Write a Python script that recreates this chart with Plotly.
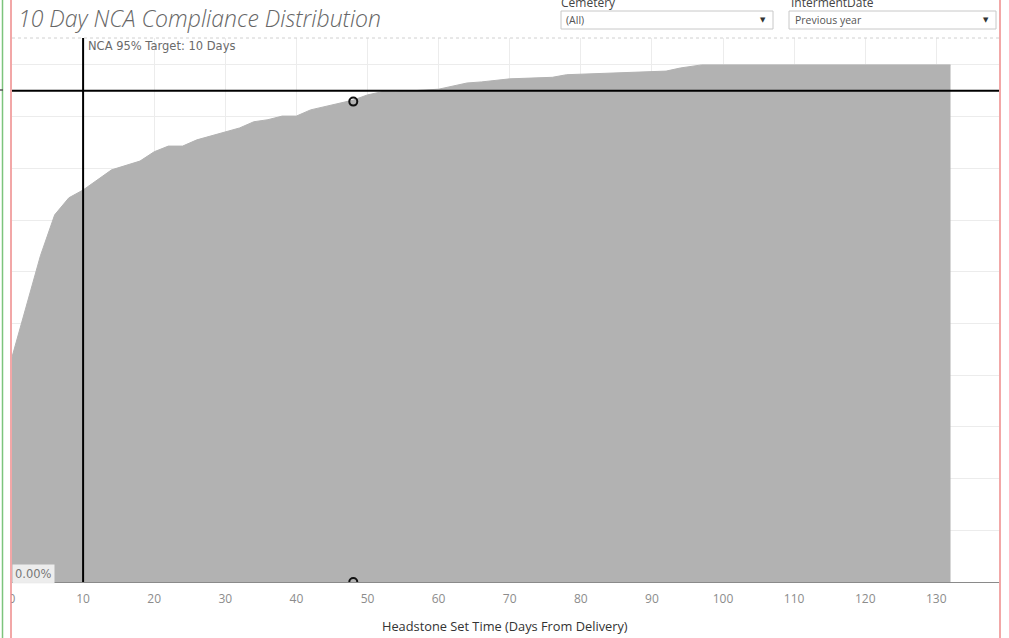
import plotly.graph_objects as go

# ---- data ----
days = [0, 2, 4, 6, 8, 10, 14, 18, 20, 22, 24, 26, 28, 30, 32, 34, 36, 38, 40, 42,
        44, 45, 47, 48, 50, 52, 54, 60, 64, 66, 70, 76, 78, 88, 92, 94, 97, 132]
pct_complete = [0.435, 0.534, 0.631, 0.710, 0.743, 0.758, 0.797, 0.814, 0.832, 0.843,
                0.843, 0.855, 0.863, 0.871, 0.878, 0.890, 0.894, 0.901, 0.901, 0.913,
                0.919, 0.923, 0.928, 0.932, 0.942, 0.948, 0.948, 0.953, 0.965, 0.967,
                0.973, 0.976, 0.981, 0.986, 0.988, 0.994, 1.0, 1.0]
marker_days = [48, 48]
marker_vals = [0.929, 0.0]
target_day = 10
target_pct = 0.95
x_ticks = [0, 10, 20, 30, 40, 50, 60, 70, 80, 90, 100, 110, 120, 130]

title_text = "10 Day NCA Compliance Distribution"
ref_label = "NCA 95% Target: 10 Days"
x_title = "Headstone Set Time (Days From Delivery)"
filter1_label, filter1_value = "Cemetery", "(All)"
filter2_label, filter2_value = "IntermentDate", "Previous year"

# ---- layout geometry (pixels) ----
W, H = 1009, 638
L, R, T, B = 12, 999, 38, 582

def px(x):
    return (x - L) / (R - L)

def py(y):
    return (B - y) / (B - T)

FONT = "Open Sans"
FONT2 = "DejaVu Sans"

fig = go.Figure()
fig.add_trace(go.Scatter(
    x=days, y=pct_complete, mode="lines", fill="tozeroy",
    line=dict(color="rgb(178,178,178)", width=1, shape="linear"),
    fillcolor="rgb(178,178,178)", hoverinfo="skip", showlegend=False))
fig.add_trace(go.Scatter(
    x=marker_days, y=marker_vals, mode="markers",
    marker=dict(symbol="circle-open", size=8, color="#111", line=dict(width=2, color="#111")),
    showlegend=False, cliponaxis=True))

shapes = []
shapes.append(dict(type="line", xref="x", yref="paper", x0=target_day, x1=target_day, y0=0, y1=1,
                   line=dict(color="#000", width=2), layer="above"))
shapes.append(dict(type="line", xref="paper", yref="y", x0=0, x1=1, y0=target_pct, y1=target_pct,
                   line=dict(color="#000", width=2), layer="above"))
shapes.append(dict(type="line", xref="paper", yref="paper", x0=0, x1=1, y0=1, y1=1,
                   line=dict(color="#d0d0d0", width=1, dash="dot")))
shapes.append(dict(type="rect", xref="paper", yref="paper", x0=px(0), x1=px(11), y0=py(638), y1=py(0),
                   fillcolor="white", line=dict(width=0), layer="above"))
shapes.append(dict(type="line", xref="paper", yref="paper", x0=px(2.5), x1=px(2.5), y0=py(638), y1=py(0),
                   line=dict(color="#7cc47c", width=1.5), layer="above"))
shapes.append(dict(type="line", xref="paper", yref="paper", x0=px(11), x1=px(11), y0=py(638), y1=py(0),
                   line=dict(color="#ee8a8a", width=1.5), layer="above"))
shapes.append(dict(type="line", xref="paper", yref="paper", x0=px(1000), x1=px(1000), y0=py(638), y1=py(0),
                   line=dict(color="#ee8a8a", width=1.5), layer="above"))
shapes.append(dict(type="line", xref="paper", yref="paper", x0=px(0), x1=px(3), y0=py(90), y1=py(90),
                   line=dict(color="#555", width=1.5), layer="above"))
for x0, x1 in [(561, 773), (789, 996)]:
    shapes.append(dict(type="rect", xref="paper", yref="paper", x0=px(x0), x1=px(x1), y0=py(29), y1=py(11),
                       fillcolor="white", line=dict(color="#c8c8c8", width=1)))

ann = []
ann.append(dict(text=title_text, xref="paper", yref="paper", x=px(16), y=py(18), xanchor="left", yanchor="middle",
                showarrow=False, font=dict(family=FONT, size=23, color="#666666", style="italic", weight=300)))
ann.append(dict(text=ref_label, xref="paper", yref="paper", x=px(86), y=py(46), xanchor="left", yanchor="middle",
                showarrow=False, font=dict(family=FONT2, size=11.5, color="#6a6a6a")))
ann.append(dict(text="0.00%", xref="paper", yref="paper", x=px(12), y=py(574), xanchor="left", yanchor="middle",
                showarrow=False, font=dict(family=FONT2, size=11.5, color="#777"), bgcolor="rgba(240,240,240,0.95)",
                borderpad=2))
ann.append(dict(text=x_title, xref="paper", yref="paper", x=px(505), y=py(626), xanchor="center", yanchor="middle",
                showarrow=False, font=dict(family=FONT, size=12.8, color="#333")))
ann.append(dict(text=filter1_label, xref="paper", yref="paper", x=px(559), y=py(3), xanchor="left", yanchor="middle",
                showarrow=False, font=dict(family=FONT, size=12, color="#444")))
ann.append(dict(text=filter2_label, xref="paper", yref="paper", x=px(789), y=py(3), xanchor="left", yanchor="middle",
                showarrow=False, font=dict(family=FONT, size=12, color="#444")))
ann.append(dict(text=filter1_value, xref="paper", yref="paper", x=px(564), y=py(20), xanchor="left", yanchor="middle",
                showarrow=False, font=dict(family=FONT, size=10.5, color="#555")))
ann.append(dict(text=filter2_value, xref="paper", yref="paper", x=px(793), y=py(20), xanchor="left", yanchor="middle",
                showarrow=False, font=dict(family=FONT, size=10.5, color="#555")))
for ax in (763, 986):
    ann.append(dict(text="▼", xref="paper", yref="paper", x=px(ax), y=py(20), xanchor="center", yanchor="middle",
                    showarrow=False, font=dict(family=FONT2, size=7, color="#333")))

fig.update_layout(
    width=W, height=H,
    margin=dict(l=L, r=W - R, t=T, b=H - B, pad=0),
    paper_bgcolor="white", plot_bgcolor="white",
    shapes=shapes, annotations=ann, showlegend=False,
    xaxis=dict(range=[0, (R - L) / 7.11], tickvals=x_ticks, ticks="", showgrid=True,
               gridcolor="#ececec", gridwidth=1, zeroline=False, showline=True,
               linecolor="#8a8a8a", linewidth=1, tickfont=dict(family=FONT, size=12, color="#8c8c8c"),
               ticklabelstandoff=6),
    yaxis=dict(range=[0, 1.052], dtick=0.1, showticklabels=False, ticks="", showgrid=True,
               gridcolor="#ececec", gridwidth=1, zeroline=False, showline=False),
)

fig.write_html("out.html", config={"displayModeBar": False},
               post_script="document.documentElement.style.margin='0';document.body.style.margin='0';"
                           "document.body.style.overflow='hidden';")
